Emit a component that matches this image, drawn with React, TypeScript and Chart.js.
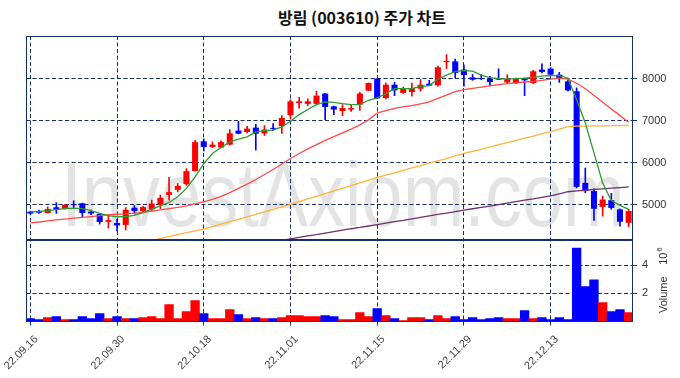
import React, { useEffect, useRef } from "react";
import { Chart, registerables } from "chart.js";

Chart.register(...registerables);

// ---------- data ----------
const dates = [
  "22.09.16", "22.09.19", "22.09.20", "22.09.21", "22.09.22", "22.09.23", "22.09.26", "22.09.27", "22.09.28", "22.09.29",
  "22.09.30", "22.10.04", "22.10.05", "22.10.06", "22.10.07", "22.10.11", "22.10.12", "22.10.13", "22.10.14", "22.10.17",
  "22.10.18", "22.10.19", "22.10.20", "22.10.21", "22.10.24", "22.10.25", "22.10.26", "22.10.27", "22.10.28", "22.10.31",
  "22.11.01", "22.11.02", "22.11.03", "22.11.04", "22.11.07", "22.11.08", "22.11.09", "22.11.10", "22.11.11", "22.11.14",
  "22.11.15", "22.11.16", "22.11.17", "22.11.18", "22.11.21", "22.11.22", "22.11.23", "22.11.24", "22.11.25", "22.11.28",
  "22.11.29", "22.11.30", "22.12.01", "22.12.02", "22.12.05", "22.12.06", "22.12.07", "22.12.08", "22.12.09", "22.12.12",
  "22.12.13", "22.12.14", "22.12.15", "22.12.16", "22.12.19", "22.12.20", "22.12.21", "22.12.22", "22.12.23", "22.12.26",
];

const opens = [
  4835, 4840, 4805, 4940, 4900, 5015, 5035, 4835, 4780, 4595,
  4565, 4520, 4930, 4850, 4890, 5005, 5235, 5355, 5490, 5805,
  6510, 6375, 6360, 6430, 6765, 6730, 6835, 6695, 6830, 6870,
  7130, 7420, 7400, 7400, 7645, 7340, 7230, 7265, 7380, 7715,
  8000, 7540, 7855, 7660, 7680, 7760, 7880, 7840, 8390, 8410,
  8215, 8030, 8015, 8000, 8000, 7910, 7895, 7990, 7895, 8215,
  8240, 8095, 7935, 7700, 5520, 5325, 4950, 5110, 4890, 4570,
];
const highs = [
  4850, 4875, 4950, 5050, 5010, 5095, 5040, 4875, 4790, 4765,
  4660, 4935, 4980, 4960, 5110, 5230, 5650, 5505, 5860, 6535,
  6565, 6495, 6520, 6790, 6985, 6865, 6915, 6885, 6930, 7120,
  7500, 7555, 7520, 7700, 7650, 7345, 7380, 7380, 7675, 7900,
  8005, 7900, 7910, 7800, 7895, 7975, 7960, 8300, 8570, 8465,
  8325, 8100, 8100, 8055, 8235, 8095, 8015, 8015, 8200, 8355,
  8260, 8150, 7960, 7780, 5875, 5380, 5205, 5270, 4905, 4890,
];
const lows = [
  4775, 4795, 4800, 4795, 4895, 4935, 4700, 4765, 4540, 4445,
  4380, 4400, 4780, 4830, 4850, 4910, 5110, 5305, 5465, 5800,
  6280, 6360, 6355, 6420, 6685, 6710, 6300, 6645, 6770, 6695,
  7040, 7300, 7360, 7380, 7025, 7145, 7120, 7220, 7245, 7710,
  7525, 7520, 7595, 7650, 7580, 7700, 7830, 7820, 8240, 8015,
  7820, 7960, 7975, 7835, 7975, 7880, 7880, 7595, 7880, 8135,
  8085, 7910, 7710, 5400, 5285, 4630, 4730, 4890, 4490, 4475,
];
const closes = [
  4790, 4810, 4900, 4890, 5000, 4990, 4805, 4795, 4590, 4635,
  4510, 4880, 4850, 4945, 5030, 5165, 5300, 5450, 5800, 6490,
  6375, 6430, 6490, 6700, 6690, 6810, 6690, 6790, 6805, 7065,
  7460, 7460, 7460, 7595, 7325, 7265, 7300, 7300, 7645, 7895,
  7530, 7855, 7720, 7775, 7775, 7855, 7835, 8270, 8420, 8135,
  8085, 7975, 7990, 7920, 7975, 7990, 7990, 7960, 8175, 8160,
  8095, 8000, 7720, 5425, 5325, 4905, 5125, 4925, 4595, 4850,
];

// volume in millions of shares
const volumes = [
  0.21, 0.14, 0.28, 0.35, 0.14, 0.14, 0.35, 0.21, 0.56, 0.21,
  0.35, 0.21, 0.21, 0.28, 0.35, 0.21, 1.2, 0.21, 0.7, 1.48,
  0.56, 0.21, 0.21, 0.85, 0.49, 0.21, 0.28, 0.21, 0.21, 0.28,
  0.42, 0.42, 0.35, 0.35, 0.42, 0.35, 0.14, 0.14, 0.64, 0.35,
  0.92, 0.42, 0.21, 0.07, 0.28, 0.28, 0.14, 0.42, 0.21, 0.35,
  0.14, 0.28, 0.14, 0.21, 0.28, 0.21, 0.21, 0.78, 0.21, 0.28,
  0.14, 0.28, 0.14, 5.2, 2.47, 2.96, 1.34, 0.7, 0.85, 0.64,
];

const ma5 = [
  4830, 4840, 4860, 4885, 4910, 4920, 4910, 4860, 4795, 4740,
  4715, 4720, 4750, 4815, 4895, 4975, 5055, 5190, 5390, 5665,
  5980, 6220, 6360, 6495, 6560, 6615, 6735, 6765, 6775, 6850,
  6985, 7145, 7265, 7380, 7445, 7435, 7405, 7380, 7380, 7485,
  7540, 7645, 7760, 7760, 7760, 7815, 7835, 7985, 8085, 8165,
  8190, 8180, 8085, 8025, 8000, 7990, 8000, 8010, 8030, 8060,
  8075, 8070, 8010, 7500, 6945, 6235, 5520, 5100, 4985, 4890,
];
const ma20 = [
  4570, 4590, 4615, 4640, 4660, 4680, 4700, 4720, 4740, 4760,
  4775, 4785, 4800, 4820, 4850, 4880, 4910, 4940, 4975, 5020,
  5070, 5130, 5200, 5290, 5390, 5490, 5600, 5720, 5840, 5970,
  6100, 6220, 6330, 6430, 6530, 6620, 6710, 6800, 6900, 7020,
  7180, 7240, 7290, 7330, 7360, 7400, 7450, 7530, 7610, 7690,
  7740, 7770, 7800, 7830, 7855, 7880, 7900, 7920, 7935, 7960,
  7990, 8010, 7990, 7890, 7760, 7600, 7440, 7280, 7120, 6960,
];
const ma60 = [
  null, null, null, null, null, null, null, null, null, null,
  null, null, null, 4090, 4145, 4200, 4245, 4290, 4335, 4380,
  4420, 4480, 4540, 4600, 4655, 4710, 4770, 4830, 4890, 4950,
  5010, 5075, 5140, 5200, 5265, 5330, 5390, 5455, 5520, 5585,
  5650, 5705, 5760, 5820, 5875, 5930, 5990, 6045, 6100, 6160,
  6220, 6270, 6320, 6375, 6430, 6480, 6530, 6585, 6635, 6690,
  6740, 6800, 6860, 6870, 6870, 6875, 6875, 6880, 6880, 6885,
];
const ma120 = [
  null, null, null, null, null, null, null, null, null, null,
  null, null, null, null, null, null, null, null, null, null,
  null, null, null, null, null, null, null, null, 4120, 4155,
  4190, 4225, 4260, 4290, 4325, 4360, 4395, 4430, 4460, 4495,
  4530, 4565, 4600, 4630, 4665, 4700, 4735, 4770, 4800, 4835,
  4870, 4905, 4940, 4970, 5005, 5040, 5075, 5110, 5140, 5175,
  5210, 5260, 5310, 5330, 5345, 5365, 5380, 5395, 5410, 5425,
];

const priceTicks = [5000, 6000, 7000, 8000];
const volumeTicks = [2, 4];
const labelEvery = 10;

const TITLE = "방림 (003610) 주가 차트";
const WATERMARK = "InvestAxiom.com";

// ---------- styles ----------
const NAVY = "#142f66";
const UP = "#ff0000";
const DOWN = "#0000ff";
const TICK_FONT = "'Liberation Sans', Arial, sans-serif";

const panelClip = {
  id: "panelClip",
  beforeDatasetDraw(chart: any, args: any) {
    const ds = chart.data.datasets[args.index];
    const s = chart.scales[ds.yAxisID];
    const ca = chart.chartArea;
    const ctx = chart.ctx;
    ctx.save();
    ctx.beginPath();
    ctx.rect(ca.left, s.top, ca.right - ca.left, s.bottom - s.top);
    ctx.clip();
  },
  afterDatasetDraw(chart: any) {
    chart.ctx.restore();
  },
};

const watermark = {
  id: "watermark",
  beforeDraw(chart: any) {
    const ctx = chart.ctx;
    const ca = chart.chartArea;
    const s = chart.scales.y;
    ctx.save();
    ctx.beginPath();
    ctx.rect(ca.left, s.top, ca.right - ca.left, s.bottom - s.top);
    ctx.clip();
    ctx.fillStyle = "rgba(0,0,0,0.11)";
    ctx.font = "74px 'Liberation Sans', Arial, sans-serif";
    ctx.textAlign = "center";
    ctx.textBaseline = "alphabetic";
    ctx.translate(343, 226);
    ctx.scale(1, 1.22);
    ctx.fillText(WATERMARK, 0, 0);
    ctx.restore();
  },
};

const frames = {
  id: "frames",
  afterDraw(chart: any) {
    const ctx = chart.ctx;
    const ca = chart.chartArea;
    const l = Math.round(ca.left) + 0.5;
    const r = Math.round(ca.right) - 0.5;
    ctx.save();
    ctx.strokeStyle = NAVY;
    ctx.lineWidth = 1;
    for (const id of ["y", "yv"]) {
      const s = chart.scales[id];
      const t = Math.round(s.top) + 0.5;
      const b = Math.round(s.bottom) - 0.5;
      ctx.strokeRect(l, t, r - l, b - t);
    }
    // rotated date labels
    const xs = chart.scales.x;
    ctx.fillStyle = "#444";
    ctx.font = "11px " + TICK_FONT;
    ctx.textAlign = "right";
    ctx.textBaseline = "middle";
    for (let i = 0; i < dates.length; i += labelEvery) {
      const px = xs.getPixelForValue(i);
      ctx.save();
      ctx.translate(px + 6, ca.bottom + 16);
      ctx.rotate(-Math.PI / 4);
      ctx.fillText(dates[i], 0, 0);
      ctx.restore();
    }
    // volume axis label
    const sv = chart.scales.yv;
    ctx.fillStyle = "#333";
    ctx.translate(664, (sv.top + sv.bottom) / 2 + 14);
    ctx.rotate(-Math.PI / 2);
    ctx.textBaseline = "middle";
    ctx.textAlign = "center";
    ctx.font = "11px " + TICK_FONT;
    ctx.fillText("Volume", 0, 0);
    ctx.textAlign = "left";
    ctx.fillText("10", 30, 0);
    ctx.font = "8px " + TICK_FONT;
    ctx.fillText("6", 43, -4);
    ctx.restore();
  },
};

export default function App() {
  const ref = useRef<HTMLCanvasElement | null>(null);

  useEffect(() => {
    if (!ref.current) return;
    const colors = closes.map((c, i) => (c >= opens[i] ? UP : DOWN));
    const xGridColor = (c: any) => (c.index % labelEvery === 0 ? NAVY : "rgba(0,0,0,0)");

    const chart = new Chart(ref.current, {
      type: "bar",
      data: {
        labels: dates,
        datasets: [
          { type: "line", label: "MA5", data: ma5, yAxisID: "y", borderColor: "#2f9a2f", borderWidth: 1.3, pointRadius: 0, order: 0 },
          { type: "line", label: "MA20", data: ma20, yAxisID: "y", borderColor: "#ff4a4a", borderWidth: 1.3, pointRadius: 0, order: 0 },
          { type: "line", label: "MA60", data: ma60, yAxisID: "y", borderColor: "#ffb338", borderWidth: 1.3, pointRadius: 0, order: 0 },
          { type: "line", label: "MA120", data: ma120, yAxisID: "y", borderColor: "#6e2f72", borderWidth: 1.3, pointRadius: 0, order: 0 },
          {
            type: "bar",
            label: "wick",
            data: lows.map((l, i) => [l, highs[i]]),
            yAxisID: "y",
            backgroundColor: colors,
            barThickness: 1,
            grouped: false,
            order: 2,
          },
          {
            type: "bar",
            label: "body",
            data: opens.map((o, i) => [o, closes[i]]),
            yAxisID: "y",
            backgroundColor: colors,
            barPercentage: 0.7,
            categoryPercentage: 1,
            minBarLength: 1,
            grouped: false,
            order: 1,
          },
          {
            type: "bar",
            label: "volume",
            data: volumes,
            yAxisID: "yv",
            backgroundColor: colors,
            barPercentage: 1,
            categoryPercentage: 1,
            grouped: false,
            order: 1,
          },
        ] as any,
      },
      options: {
        responsive: false,
        animation: false,
        events: [],
        layout: { padding: { top: 36, left: 26, right: 0, bottom: 0 } },
        plugins: {
          legend: { display: false },
          tooltip: { enabled: false },
          title: { display: false },
        },
        scales: {
          x: {
            type: "category",
            offset: true,
            grid: {
              offset: false,
              color: xGridColor,
              tickColor: xGridColor,
              tickLength: 4,
              lineWidth: 1,
            },
            border: { display: false, dash: [4, 2.5] },
            ticks: {
              display: false,
              autoSkip: false,
            },
            afterFit: (s: any) => {
              s.height = 56.5;
              s.paddingLeft = 0;
              s.paddingRight = 0;
            },
          },
          y: {
            type: "linear",
            position: "right",
            stack: "panels",
            stackWeight: 204,
            min: 4162,
            max: 9014,
            afterBuildTicks: (a: any) => {
              a.ticks = priceTicks.map((v) => ({ value: v }));
            },
            grid: { color: NAVY, tickColor: NAVY, tickLength: 4, lineWidth: 1 },
            border: { display: false, dash: [4, 2.5] },
            ticks: {
              padding: 5,
              color: "#333",
              font: { family: TICK_FONT, size: 11 },
              callback: (v: any) => String(v),
            },
            afterFit: (s: any) => {
              s.width = 47;
              s.paddingTop = 0;
              s.paddingBottom = 0;
            },
          },
          yv: {
            type: "linear",
            position: "right",
            stack: "panels",
            stackWeight: 81.5,
            min: 0,
            max: 5.78,
            afterBuildTicks: (a: any) => {
              a.ticks = volumeTicks.map((v) => ({ value: v }));
            },
            grid: { color: NAVY, tickColor: NAVY, tickLength: 4, lineWidth: 1 },
            border: { display: false, dash: [4, 2.5] },
            ticks: {
              padding: 5,
              color: "#333",
              font: { family: TICK_FONT, size: 11 },
              callback: (v: any) => String(v),
            },
            afterFit: (s: any) => {
              s.width = 47;
              s.paddingTop = 0;
              s.paddingBottom = 0;
            },
          },
        } as any,
      },
      plugins: [watermark, panelClip, frames],
    });
    return () => chart.destroy();
  }, []);

  return (
    <div style={{ position: "absolute", left: 0, top: 0, width: 680, height: 378, background: "#fff" }}>
      <div
        style={{
          position: "absolute",
          left: 362,
          top: 5,
          transform: "translateX(-50%)",
          whiteSpace: "nowrap",
          fontFamily: "'Noto Sans CJK KR', sans-serif",
          fontWeight: 700,
          fontSize: 16,
          lineHeight: "24px",
          color: "#111",
        }}
      >
        {TITLE}
      </div>
      <canvas ref={ref} width={680} height={378} style={{ position: "absolute", left: 0, top: 0 }} />
    </div>
  );
}
